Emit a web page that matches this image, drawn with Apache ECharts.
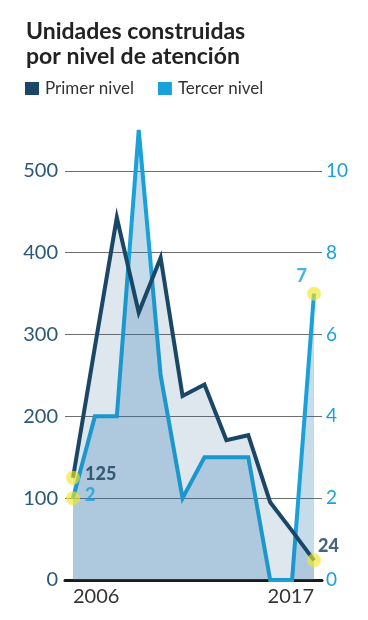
<!DOCTYPE html>
<html>
<head>
<meta charset="utf-8">
<script src="https://cdn.jsdelivr.net/npm/echarts@6/dist/echarts.min.js"></script>
<style>
html,body{margin:0;padding:0;background:#fff;}
#chart{width:368px;height:620px;}
</style>
</head>
<body>
<div id="chart"></div>
<script>
const years = ['2006','2007','2008','2009','2010','2011','2012','2013','2014','2015','2016','2017'];
const primerNivel = [125, 285, 443, 327, 394, 225, 239, 171, 177, 95, 60, 24];
const tercerNivel = [2, 4, 4, 11, 5, 2, 3, 3, 3, 0, 0, 7];
const leftAxisMax = 550, leftAxisStep = 100, leftLabelMax = 500;
const rightAxisMax = 11, rightAxisStep = 2, rightLabelMax = 10;

const FONT = 'Lato, "Open Sans", sans-serif';
const DARK = '#1b4766';
const LIGHT = '#1aa1d9';
const last = years.length - 1;

const chart = echarts.init(document.getElementById('chart'), null, {renderer: 'canvas'});
chart.setOption({
  animation: false,
  backgroundColor: '#ffffff',
  title: {
    text: 'Unidades construidas\npor nivel de atención',
    left: 21, top: 14,
    textStyle: {fontFamily: FONT, fontSize: 23, fontWeight: 'bold', color: '#222', lineHeight: 25}
  },
  legend: {
    left: 20, top: 75,
    icon: 'rect', itemWidth: 14, itemHeight: 13, itemGap: 24,
    textStyle: {fontFamily: FONT, fontSize: 17, color: '#333', padding: [0,0,0,1]},
    data: ['Primer nivel', 'Tercer nivel']
  },
  grid: [
    {left: 73, right: 54, top: 130, bottom: 40},
    {left: 65, right: 46, top: 130, bottom: 40}
  ],
  xAxis: [
    {type: 'category', gridIndex: 0, data: years, boundaryGap: false,
     axisLine: {show: false}, axisTick: {show: false},
     axisLabel: {interval: (i) => i === 0 || i === last, fontFamily: FONT, fontSize: 20, color: '#333', margin: 7,
                 alignMinLabel: 'left', alignMaxLabel: 'right'}},
    {type: 'value', gridIndex: 1, min: 0, max: 1,
     axisLine: {show: true, lineStyle: {color: '#1a1a1a', width: 3}},
     axisTick: {show: false}, axisLabel: {show: false}, splitLine: {show: false}}
  ],
  yAxis: [
    {type: 'value', gridIndex: 1, position: 'left', min: 0, max: leftAxisMax, interval: leftAxisStep,
     axisLine: {show: false}, axisTick: {show: false},
     axisLabel: {fontFamily: FONT, fontSize: 20, color: '#2b5876', margin: 7,
                 formatter: v => v > leftLabelMax ? '' : String(v)},
     splitLine: {show: true, showMinLine: false, showMaxLine: false, lineStyle: {color: '#6e6e6e', width: 1}}},
    {type: 'value', gridIndex: 1, position: 'right', min: 0, max: rightAxisMax, interval: rightAxisStep,
     axisLine: {show: false}, axisTick: {show: false},
     axisLabel: {fontFamily: FONT, fontSize: 19, color: LIGHT, margin: 4,
                 formatter: v => v > rightLabelMax ? '' : String(v)},
     splitLine: {show: false}},
    {type: 'value', gridIndex: 0, min: 0, max: leftAxisMax, show: false},
    {type: 'value', gridIndex: 0, min: 0, max: rightAxisMax, show: false}
  ],
  series: [
    {name: 'Tercer nivel', type: 'line', xAxisIndex: 0, yAxisIndex: 3, data: tercerNivel,
     symbol: 'none', itemStyle: {color: LIGHT}, lineStyle: {color: LIGHT, width: 4, join: 'miter'},
     areaStyle: {color: 'rgba(30,115,175,0.36)'}, z: 2},
    {name: 'Primer nivel', type: 'line', xAxisIndex: 0, yAxisIndex: 2, data: primerNivel,
     symbol: 'none', itemStyle: {color: DARK}, lineStyle: {color: DARK, width: 4, join: 'miter'},
     areaStyle: {color: 'rgba(40,95,145,0.22)'}, z: 3},
    {name: 'hlPrimer', type: 'scatter', xAxisIndex: 0, yAxisIndex: 2, z: 4,
     data: [
       {value: [0, primerNivel[0]], label: {position: 'right', distance: 5, offset: [0, -4]}},
       {value: [last, primerNivel[last]], label: {position: 'right', distance: 0, offset: [-3, -14]}}
     ],
     symbolSize: 14, itemStyle: {color: 'rgba(240,230,40,0.8)'},
     label: {show: true, formatter: p => String(p.value[1]), fontFamily: FONT, fontWeight: 900, fontSize: 18, color: '#173f5c'}},
    {name: 'hlTercer', type: 'scatter', xAxisIndex: 0, yAxisIndex: 3, z: 4,
     data: [
       {value: [0, tercerNivel[0]], label: {position: 'right', distance: 5, offset: [0, -3]}},
       {value: [last, tercerNivel[last]], label: {position: 'left', distance: 0, offset: [0, -17]}}
     ],
     symbolSize: 14, itemStyle: {color: 'rgba(240,230,40,0.8)'},
     label: {show: true, formatter: p => String(p.value[1]), fontFamily: FONT, fontWeight: 900, fontSize: 18, color: LIGHT}}
  ]
});
</script>
</body>
</html>
